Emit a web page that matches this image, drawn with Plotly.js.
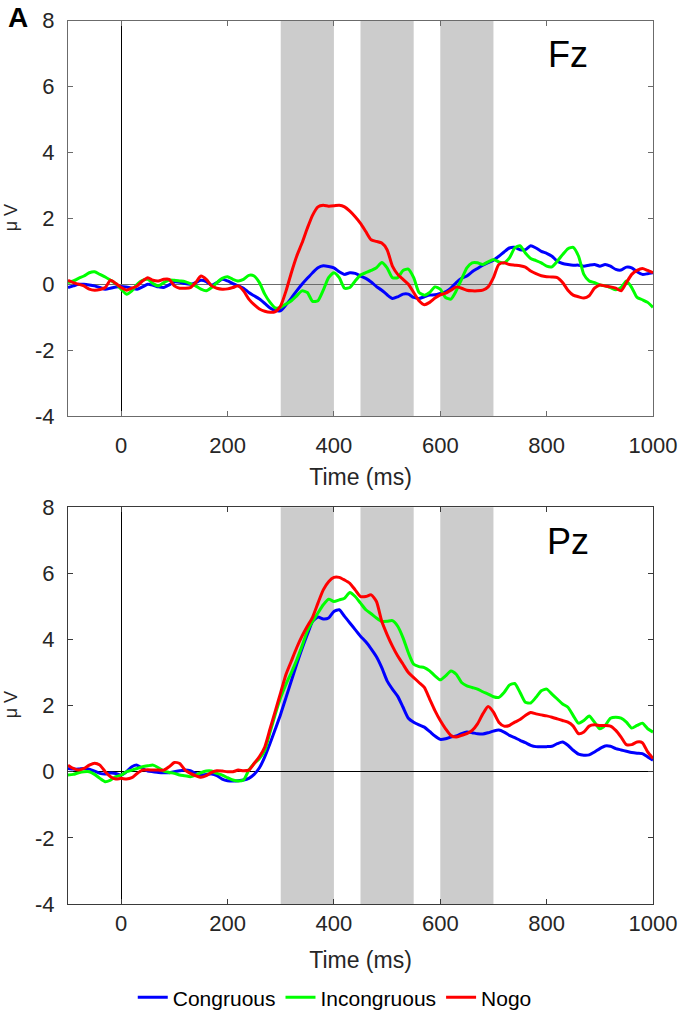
<!DOCTYPE html>
<html>
<head>
<meta charset="utf-8">
<script src="https://cdn.plot.ly/plotly-3.0.1.min.js"></script>
<style>html,body{margin:0;padding:0;background:#fff;}#chart{width:680px;height:1014px;}</style>
</head>
<body>
<div id="chart"></div>
<script>
const timeMs = [-100,-90,-80,-70,-60,-50,-40,-30,-20,-10,
0,10,20,30,40,50,60,70,80,90,
100,110,120,130,140,150,160,170,180,190,
200,210,220,230,240,250,260,270,280,290,
300,310,320,330,340,350,360,370,380,390,
400,410,420,430,440,450,460,470,480,490,
500,510,520,530,540,550,560,570,580,590,
600,610,620,630,640,650,660,670,680,690,
700,710,720,730,740,750,760,770,780,790,
800,810,820,830,840,850,860,870,880,890,
900,910,920,930,940,950,960,970,980,990,
1000];

const seriesNames = ["Congruous", "Incongruous", "Nogo"];
const panelLabels = ["Fz", "Pz"];
const xTicks = [0, 200, 400, 600, 800, 1000];
const yTicks = [-4, -2, 0, 2, 4, 6, 8];
const yTickText = ["-4", "-2", "0", "2", "4", "6", "8"];
const windows = [[300, 400], [450, 550], [600, 700]];

const fzCongruous = [-0.1,-0.05,0,0,-0.02,-0.05,-0.1,-0.15,-0.12,-0.08,
-0.07,-0.08,-0.12,-0.15,-0.08,0,-0.03,-0.08,-0.1,-0.02,
0.07,0.06,0.02,0,0.05,0.12,0.08,-0.03,0.05,0.15,
0.1,0.02,-0.05,-0.12,-0.25,-0.35,-0.45,-0.58,-0.72,-0.8,
-0.8,-0.62,-0.42,-0.2,0.0,0.18,0.35,0.5,0.56,0.54,
0.5,0.38,0.3,0.35,0.33,0.25,0.18,0.07,-0.07,-0.18,
-0.32,-0.43,-0.38,-0.3,-0.3,-0.4,-0.43,-0.38,-0.33,-0.32,
-0.28,-0.23,-0.12,0.05,0.18,0.25,0.38,0.48,0.58,0.66,
0.73,0.85,0.98,1.1,1.12,1.05,1.05,1.17,1.1,1.0,
0.94,0.85,0.7,0.63,0.6,0.58,0.58,0.55,0.58,0.6,
0.55,0.6,0.55,0.45,0.43,0.52,0.5,0.38,0.3,0.32,
0.35];

const fzIncongruous = [0.05,0.1,0.18,0.25,0.35,0.38,0.3,0.22,0.12,0.02,
-0.15,-0.3,-0.2,0.0,0.12,0.15,0.02,-0.05,0.05,0.13,
0.12,0.1,0.08,0.02,-0.05,-0.15,-0.2,-0.1,0.05,0.18,
0.23,0.15,0.1,0.15,0.27,0.25,0.05,-0.3,-0.55,-0.72,
-0.7,-0.6,-0.5,-0.35,-0.2,-0.25,-0.52,-0.5,-0.18,0.2,
0.35,0.2,-0.12,-0.1,0.1,0.28,0.35,0.42,0.5,0.66,
0.5,0.2,0.2,0.42,0.46,0.2,-0.25,-0.33,-0.25,-0.08,
-0.15,-0.4,-0.45,-0.2,0.15,0.5,0.65,0.65,0.6,0.68,
0.75,0.68,0.65,0.8,1.1,1.17,0.95,0.78,0.72,0.65,
0.55,0.53,0.7,0.9,1.08,1.12,0.85,0.3,0.1,0.05,
-0.02,-0.05,-0.1,-0.17,-0.1,0.1,-0.1,-0.4,-0.47,-0.55,
-0.7];

const fzNogo = [0.12,0.05,0.0,-0.05,-0.15,-0.18,-0.16,-0.1,0.12,0.02,
-0.1,-0.18,-0.12,-0.05,0.1,0.2,0.12,0.1,0.15,0.15,
-0.05,-0.12,-0.12,-0.1,0.05,0.25,0.15,-0.05,-0.12,-0.15,
-0.14,-0.1,-0.05,-0.2,-0.45,-0.62,-0.75,-0.82,-0.85,-0.83,
-0.65,-0.2,0.35,0.85,1.25,1.7,2.1,2.35,2.4,2.37,
2.38,2.4,2.35,2.22,2.05,1.85,1.6,1.35,1.3,1.25,
1.05,0.55,0.3,0.15,0.0,-0.25,-0.5,-0.62,-0.55,-0.42,
-0.32,-0.27,-0.18,-0.08,-0.12,-0.18,-0.2,-0.2,-0.18,-0.08,
0.2,0.6,0.65,0.6,0.58,0.56,0.52,0.4,0.32,0.26,
0.23,0.22,0.2,0.05,-0.18,-0.33,-0.38,-0.42,-0.35,-0.12,
-0.02,-0.05,-0.08,-0.12,-0.2,0.05,0.3,0.42,0.48,0.42,
0.35];

const pzCongruous = [0.1,0.08,0.08,0.1,0.08,0.02,-0.05,-0.07,-0.04,-0.05,
-0.1,0.0,0.15,0.2,0.1,0.02,0.0,-0.02,-0.03,-0.03,
0.0,0.03,0.05,0.03,-0.05,-0.1,-0.08,-0.07,-0.12,-0.22,
-0.27,-0.28,-0.27,-0.25,-0.2,-0.08,0.12,0.45,0.86,1.3,
1.75,2.25,2.75,3.25,3.72,4.15,4.55,4.68,4.62,4.65,
4.85,4.9,4.7,4.5,4.3,4.1,3.93,3.72,3.48,3.15,
2.75,2.5,2.28,1.95,1.62,1.5,1.42,1.35,1.22,1.08,
0.98,1.0,1.05,1.08,1.15,1.2,1.18,1.15,1.14,1.18,
1.23,1.26,1.2,1.1,1.03,0.95,0.88,0.8,0.76,0.76,
0.76,0.77,0.85,0.9,0.8,0.65,0.53,0.5,0.51,0.6,
0.7,0.78,0.77,0.7,0.66,0.62,0.58,0.56,0.55,0.45,
0.35];

const pzIncongruous = [-0.1,-0.08,-0.03,0.0,0.0,-0.08,-0.2,-0.3,-0.25,-0.15,
-0.1,0.0,0.05,0.1,0.15,0.18,0.2,0.12,0.02,-0.02,
-0.05,-0.1,-0.12,-0.15,-0.1,-0.03,0.02,0.02,-0.05,-0.1,
-0.18,-0.25,-0.28,-0.25,0.05,0.25,0.4,0.65,1.2,1.75,
2.25,2.65,3.0,3.38,3.8,4.25,4.55,4.8,5.05,5.22,
5.15,5.2,5.25,5.42,5.3,5.1,4.9,4.78,4.65,4.55,
4.55,4.57,4.4,4.05,3.6,3.25,3.18,3.15,3.05,2.9,
2.78,2.9,3.05,2.95,2.7,2.6,2.55,2.5,2.42,2.35,
2.27,2.25,2.4,2.62,2.67,2.4,2.1,2.08,2.25,2.45,
2.5,2.35,2.2,2.05,1.95,1.7,1.47,1.55,1.69,1.5,
1.3,1.4,1.62,1.65,1.62,1.5,1.32,1.4,1.47,1.3,
1.2];

const pzNogo = [0.2,0.1,0.05,0.1,0.2,0.26,0.2,0.0,-0.15,-0.22,
-0.2,-0.22,-0.18,-0.05,0.05,0.06,0.05,0.05,0.05,0.15,
0.28,0.25,0.05,-0.05,-0.12,-0.17,-0.12,-0.02,0.03,0.02,
0.0,0.0,0.05,0.03,0.05,0.25,0.46,0.75,1.3,1.85,
2.4,2.95,3.35,3.75,4.1,4.4,4.68,5.1,5.5,5.75,
5.88,5.88,5.8,5.7,5.5,5.3,5.3,5.35,5.15,4.55,
4.15,3.8,3.5,3.25,3.0,2.85,2.7,2.55,2.2,1.85,
1.55,1.3,1.1,1.05,1.1,1.15,1.25,1.45,1.75,1.97,
1.8,1.5,1.38,1.4,1.5,1.58,1.7,1.79,1.75,1.72,
1.69,1.65,1.6,1.55,1.5,1.38,1.15,1.2,1.38,1.42,
1.4,1.4,1.38,1.25,1.05,0.82,0.82,0.9,0.88,0.6,
0.4];

const colors = ["#0000FF", "#00FF00", "#FF0000"];
const FONT = "Liberation Sans, Arial, sans-serif";
const TXT = "#262626";

const fzData = [fzCongruous, fzIncongruous, fzNogo];
const pzData = [pzCongruous, pzIncongruous, pzNogo];

const traces = [];
[fzData, pzData].forEach((set, p) => {
  set.forEach((vals, i) => {
    traces.push({
      x: timeMs, y: vals, type: "scatter", mode: "lines",
      name: seriesNames[i],
      line: {color: colors[i], width: 3, shape: "spline", smoothing: 0.6},
      xaxis: p === 0 ? "x" : "x2",
      yaxis: p === 0 ? "y" : "y2",
      showlegend: p === 1,
      legendrank: i + 1,
      hoverinfo: "skip"
    });
  });
});

function xAxis(anchor, labelGap, titleGap, lineColor) {
  return {
    anchor: anchor, domain: [0, 1], range: [-100, 1000],
    tickvals: xTicks, ticks: "inside", ticklen: 5, tickcolor: lineColor,
    showline: true, linecolor: lineColor, linewidth: 1, mirror: "ticks",
    showgrid: false, zeroline: true, zerolinecolor: "#000000", zerolinewidth: 1,
    tickfont: {family: FONT, size: 22, color: TXT},
    ticklabelstandoff: labelGap,
    title: {text: "Time (ms)", font: {family: FONT, size: 23, color: TXT}, standoff: titleGap},
    automargin: false, fixedrange: true
  };
}
function yAxis(anchor, dom, zeroColor, lineColor) {
  return {
    anchor: anchor, domain: dom, range: [-4, 8],
    tickvals: yTicks, ticktext: yTickText, ticks: "inside", ticklen: 5, tickcolor: lineColor,
    showline: true, linecolor: lineColor, linewidth: 1, mirror: "ticks",
    showgrid: false, zeroline: true, zerolinecolor: zeroColor, zerolinewidth: 1,
    tickfont: {family: FONT, size: 22, color: TXT},
    ticklabelstandoff: 8,
    automargin: false, fixedrange: true
  };
}

const shapes = [];
["x", "x2"].forEach((xr, p) => {
  windows.forEach(w => {
    shapes.push({
      type: "rect", xref: xr, yref: (p === 0 ? "y" : "y2") + " domain",
      x0: w[0], x1: w[1], y0: 0, y1: 1,
      fillcolor: "#cccccc", line: {width: 0}, layer: "below"
    });
  });
});

const annotations = [
  {text: "<b>A</b>", xref: "paper", yref: "paper", x: -0.105, y: 1.0215,
   xanchor: "left", yanchor: "top", showarrow: false, borderpad: 0,
   font: {family: FONT, size: 28, color: "#000"}},
  {text: panelLabels[0], xref: "x", yref: "y", x: 840, y: 6.96,
   xanchor: "center", yanchor: "middle", showarrow: false,
   font: {family: FONT, size: 36, color: "#000"}},
  {text: panelLabels[1], xref: "x2", yref: "y2", x: 840, y: 6.97,
   xanchor: "center", yanchor: "middle", showarrow: false,
   font: {family: FONT, size: 36, color: "#000"}},
  {text: "μ V", xref: "paper", yref: "paper", x: -0.097, y: 0.776,
   xanchor: "center", yanchor: "middle", textangle: -90, showarrow: false,
   font: {family: FONT, size: 18, color: TXT}},
  {text: "μ V", xref: "paper", yref: "paper", x: -0.097, y: 0.225,
   xanchor: "center", yanchor: "middle", textangle: -90, showarrow: false,
   font: {family: FONT, size: 18, color: TXT}}
];

const layout = {
  width: 680, height: 1014,
  margin: {l: 68, r: 27, t: 20, b: 110, autoexpand: false},
  paper_bgcolor: "#ffffff", plot_bgcolor: "#ffffff",
  showlegend: true,
  legend: {orientation: "h", x: 0.456, xanchor: "center", y: -0.106, yanchor: "middle",
           font: {family: FONT, size: 21, color: "#000"}, bgcolor: "rgba(0,0,0,0)",
           traceorder: "normal", itemwidth: 30},
  xaxis: xAxis("y", 10, 11, "#6b6b6b"),
  yaxis: yAxis("x", [0.552, 0.9992], "#6b6b6b", "#6b6b6b"),
  xaxis2: xAxis("y2", 0, 16, "#3a3a3a"),
  yaxis2: yAxis("x2", [0, 0.4488], "#000000", "#3a3a3a"),
  shapes: shapes,
  annotations: annotations
};

Plotly.newPlot("chart", traces, layout, {staticPlot: true, displayModeBar: false});
</script>
</body>
</html>
